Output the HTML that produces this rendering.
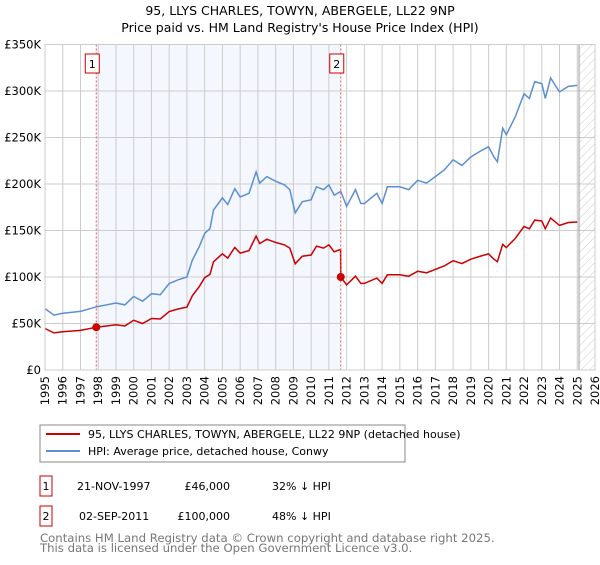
<!DOCTYPE html>
<html><head><meta charset="utf-8"><style>
body{margin:0;background:#fff;font-family:"Liberation Sans","DejaVu Sans",sans-serif;}
svg text{font-family:"DejaVu Sans","Liberation Sans",sans-serif;}
</style></head><body>
<svg id="c" width="600" height="560" viewBox="0 0 600 560">
<defs><pattern id="hatch" width="6" height="6" patternUnits="userSpaceOnUse" patternTransform="rotate(45)"><line x1="0" y1="0" x2="0" y2="6" stroke="#ccc" stroke-width="1"/></pattern></defs>
<text x="300" y="15" text-anchor="middle" font-size="12.5" fill="#000">95, LLYS CHARLES, TOWYN, ABERGELE, LL22 9NP</text>
<text x="300" y="32" text-anchor="middle" font-size="12.5" fill="#000">Price paid vs. HM Land Registry's House Price Index (HPI)</text>
<g id="plot"></g>
<rect x="40" y="425" width="365" height="37" fill="#fff" stroke="#888"/>
<line x1="46" y1="434" x2="80" y2="434" stroke="#cc0000" stroke-width="2"/>
<text x="88" y="438" font-size="11">95, LLYS CHARLES, TOWYN, ABERGELE, LL22 9NP (detached house)</text>
<line x1="46" y1="451" x2="80" y2="451" stroke="#5b8fd4" stroke-width="2"/>
<text x="88" y="455" font-size="11">HPI: Average price, detached house, Conwy</text>
<rect x="40" y="476" width="12" height="20" fill="#fff" stroke="#cc0000"/>
<text x="46" y="490" font-size="11" text-anchor="middle">1</text>
<text x="77" y="490" font-size="11">21-NOV-1997</text>
<text x="230" y="490" font-size="11" text-anchor="end">£46,000</text>
<text x="272" y="490" font-size="11">32% ↓ HPI</text>
<rect x="40" y="506" width="12" height="20" fill="#fff" stroke="#cc0000"/>
<text x="46" y="520" font-size="11" text-anchor="middle">2</text>
<text x="79" y="520" font-size="11">02-SEP-2011</text>
<text x="230" y="520" font-size="11" text-anchor="end">£100,000</text>
<text x="272" y="520" font-size="11">48% ↓ HPI</text>
<text x="40" y="542" font-size="11.7" fill="#777">Contains HM Land Registry data © Crown copyright and database right 2025.</text>
<text x="40" y="552" font-size="11.7" fill="#777">This data is licensed under the Open Government Licence v3.0.</text>
</svg>
<script>
const yTicks=[0,50,100,150,200,250,300,350];
const yTickLabels=["£0","£50K","£100K","£150K","£200K","£250K","£300K","£350K"];
const xYears=[1995,1996,1997,1998,1999,2000,2001,2002,2003,2004,2005,2006,2007,2008,2009,2010,2011,2012,2013,2014,2015,2016,2017,2018,2019,2020,2021,2022,2023,2024,2025,2026];
const hpiT=[1995,1995.5,1996,1997,1997.9,1999,1999.5,2000,2000.5,2001,2001.5,2002,2002.5,2003,2003.3,2003.7,2004,2004.3,2004.5,2005,2005.3,2005.7,2006,2006.5,2006.9,2007.1,2007.5,2008,2008.5,2008.8,2009.1,2009.5,2010,2010.3,2010.7,2011,2011.3,2011.67,2012,2012.5,2012.8,2013,2013.7,2014,2014.3,2015,2015.5,2016,2016.5,2017,2017.5,2018,2018.5,2019,2019.5,2020,2020.3,2020.5,2020.8,2021,2021.5,2022,2022.3,2022.6,2023,2023.2,2023.5,2024,2024.5,2025];
const hpiV=[66,59,61,63,68,72,70,79,74,82,81,93,97,100,118,133,147,152,172,185,178,195,186,190,213,201,208,203,199,194,169,181,183,197,194,199,188,192,176,194,179,179,190,179,197,197,194,204,201,208,215,226,220,229,235,240,229,224,260,253,272,297,292,310,308,292,314,299,305,306];
const propT=[1995,1995.5,1996,1997,1997.9,1999,1999.5,2000,2000.5,2001,2001.5,2002,2002.5,2003,2003.3,2003.7,2004,2004.3,2004.5,2005,2005.3,2005.7,2006,2006.5,2006.9,2007.1,2007.5,2008,2008.5,2008.8,2009.1,2009.5,2010,2010.3,2010.7,2011,2011.3,2011.66,2011.67,2012,2012.5,2012.8,2013,2013.7,2014,2014.3,2015,2015.5,2016,2016.5,2017,2017.5,2018,2018.5,2019,2019.5,2020,2020.3,2020.5,2020.8,2021,2021.5,2022,2022.3,2022.6,2023,2023.2,2023.5,2024,2024.5,2025];
const propV=[44.6,39.9,41.2,42.6,46,48.7,47.3,53.4,50,55.4,54.8,62.9,65.6,67.6,79.8,89.9,99.4,102.8,116.3,125,120.3,131.8,125.7,128.4,144,135.9,140.6,137.2,134.5,131.1,114.2,122.4,123.7,133.2,131.1,134.5,127.1,129.8,100,91.5,100.9,93.1,93.1,98.8,93.1,102.4,102.4,100.9,106.1,104.5,108.2,111.8,117.5,114.4,119.1,122.2,124.8,119.1,116.5,135.2,131.6,141.4,154.4,151.8,161.2,160.2,151.8,163.3,155.5,158.6,159.1];
const saleT=[1997.89,2011.67];
const saleV=[46,100];
const saleLabels=["1","2"];
const X0=45,X1=595,Y0=370,Y1=44.5;
const xs=t=>X0+(t-1995)/(2026-1995)*(X1-X0);
const ys=v=>Y0-v/350*(Y0-Y1);
const NS="http://www.w3.org/2000/svg";
const g=document.getElementById('plot');
function mk(tag,at,parent){const e=document.createElementNS(NS,tag);for(const k in at)e.setAttribute(k,at[k]);(parent||g).appendChild(e);return e;}
let r=mk('rect',{x:xs(saleT[0]),y:Y1,width:xs(saleT[1])-xs(saleT[0]),height:Y0-Y1,fill:'#f4f7fd'});


let h=mk('rect',{x:xs(2025.1),y:Y1,width:X1-xs(2025.1),height:Y0-Y1,fill:'url(#hatch)'});


yTicks.forEach((v,i)=>{
 let l=mk('line',{x1:X0,x2:X1,y1:ys(v),y2:ys(v),stroke:'#cccccc'});
 
 
 let t=mk('text',{x:X0-4,y:ys(v)+4,'text-anchor':'end','font-size':'11.5'});t.textContent=yTickLabels[i];
 
 
});
xYears.forEach(y=>{
 let l=mk('line',{x1:xs(y),x2:xs(y),y1:Y1,y2:Y0,stroke:'#cccccc'});
 
 
 let t=mk('text',{x:0,y:0,'text-anchor':'end','font-size':'11.5',transform:`translate(${xs(y)+4},${Y0+6}) rotate(-90)`});t.textContent=y;
 
 
});
let vb=mk('line',{x1:xs(2025.1),x2:xs(2025.1),y1:Y1,y2:Y0,stroke:'#999'});


function path(T,V){return T.map((t,i)=>(i?'L':'M')+xs(t).toFixed(1)+','+ys(V[i]).toFixed(1)).join(' ');}
let hp=mk('path',{d:path(hpiT,hpiV),fill:'none',stroke:'#5b8fd4','stroke-width':1.5});


let pp=mk('path',{d:path(propT,propV),fill:'none',stroke:'#cc0000','stroke-width':1.5});


saleT.forEach((t,i)=>{
 let l=mk('line',{x1:xs(t),x2:xs(t),y1:Y1,y2:Y0,stroke:'#e55','stroke-dasharray':'2,2'});
 
 
 let c=mk('circle',{cx:xs(t),cy:ys(saleV[i]),r:4,fill:'#cc0000'});
 
 
 let b=mk('rect',{x:xs(t)-11,y:54,width:14,height:19,fill:'#fff',stroke:'#cc0000'});
 
 
 let tx=mk('text',{x:xs(t)-4,y:68,'text-anchor':'middle','font-size':'11'});tx.textContent=saleLabels[i];
 
 
});
let bd=mk('rect',{x:X0,y:Y1,width:X1-X0,height:Y0-Y1,fill:'none',stroke:'#ccc'});


</script>
</body></html>
